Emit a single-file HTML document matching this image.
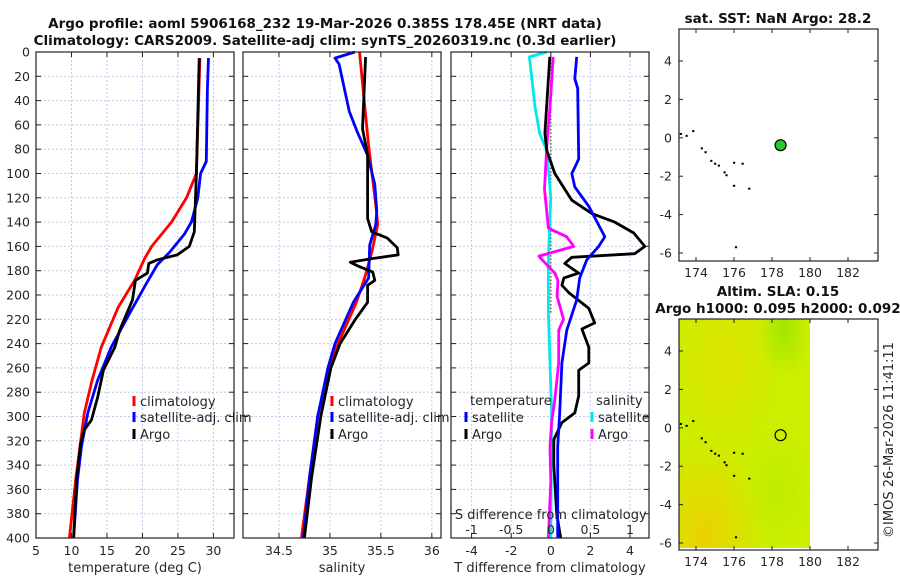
<!DOCTYPE html>
<html><head><meta charset="utf-8">
<style>
html,body{margin:0;padding:0;background:#fff;}
svg{display:block;font-family:"DejaVu Sans","Liberation Sans",sans-serif;}
</style></head>
<body>
<svg id="fig" width="900" height="580" viewBox="0 0 900 580" xmlns="http://www.w3.org/2000/svg">
<defs>
<radialGradient id="g1" cx="0.2" cy="0.95" r="0.45"><stop offset="0" stop-color="#f2cc00" stop-opacity="0.85"/><stop offset="1" stop-color="#f2cc00" stop-opacity="0"/></radialGradient>
<radialGradient id="g2" cx="0.35" cy="0.2" r="0.4"><stop offset="0" stop-color="#ecdc00" stop-opacity="0.6"/><stop offset="1" stop-color="#ecdc00" stop-opacity="0"/></radialGradient>
<radialGradient id="g3" cx="0.8" cy="0.05" r="0.2"><stop offset="0" stop-color="#98e400" stop-opacity="0.8"/><stop offset="1" stop-color="#98e400" stop-opacity="0"/></radialGradient>
<radialGradient id="g4" cx="0.75" cy="0.75" r="0.25"><stop offset="0" stop-color="#b0e800" stop-opacity="0.5"/><stop offset="1" stop-color="#b0e800" stop-opacity="0"/></radialGradient>
</defs>
<g id="root"></g>
</svg>
<script>
// ---------- data ----------
const tempClimDepth=[5,100,120,140,160,170,188,210,243,270,297,352,400];
const tempClim=[28.1,27.6,26.2,24.1,21.3,20.3,18.9,16.6,14.2,12.9,11.8,10.6,9.7];
const tempSatDepth=[5,30,90,100,120,140,150,165,175,190,215,243,270,297,325,352,400];
const tempSat=[29.3,29.15,29.0,28.2,27.8,26.9,25.9,23.8,22.1,20.6,18.2,15.6,13.7,12.3,11.4,10.85,10.3];
const tempArgoDepth=[5,100,148,160,167,171,174,182,188,204,229,243,262,284,303,311,322,352,400];
const tempArgo=[28.0,27.6,27.3,26.6,24.9,22.1,20.9,20.7,19.0,18.6,16.8,16.1,14.5,13.7,12.8,11.8,11.3,10.7,10.3];

const salClimDepth=[0,77,126,142,165,186,206,240,260,300,350,400];
const salClim=[35.29,35.38,35.45,35.47,35.41,35.34,35.26,35.08,34.99,34.88,34.80,34.72];
const salSatDepth=[0,5,10,49,66,85,109,131,142,159,186,206,240,260,300,350,400];
const salSat=[35.245,35.05,35.09,35.19,35.27,35.37,35.44,35.46,35.45,35.39,35.38,35.23,35.05,34.98,34.88,34.80,34.74];
const salArgoDepth=[4,63,85,137,148,153,161,167,170,173,176,181,188,192,206,220,240,260,300,350,400];
const salArgo=[35.35,35.32,35.37,35.37,35.41,35.56,35.66,35.67,35.42,35.20,35.27,35.42,35.44,35.37,35.37,35.25,35.10,35.01,34.91,34.82,34.75];

const dTSatDepth=[4,22,30,88,95,100,111,127,144,152,160,171,186,204,229,256,297,325,400];
const dTSat=[1.31,1.21,1.36,1.41,1.21,1.06,1.21,1.92,2.47,2.73,2.42,1.82,1.46,1.31,0.81,0.56,0.45,0.35,0.35];
const dTArgoDepth=[4,67,81,100,122,133,140,149,160,166,169,174,182,186,192,198,211,223,228,243,256,262,283,297,305,319,340,380,400];
const dTArgo=[-0.05,-0.3,-0.2,0.2,1.06,2.07,3.23,4.19,4.75,4.24,1.06,0.7,1.41,0.66,0.56,0.91,1.92,2.22,1.57,1.92,1.92,1.41,1.41,1.21,0.56,0.15,0.15,0.3,0.5];
const dSSatDepth=[0,4,45,67,81,120,170,215,297,400];
const dSSat=[-0.05,-0.27,-0.2,-0.14,-0.05,0.0,-0.03,-0.03,0.01,0.0];
const dSArgoDepth=[4,45,77,113,145,152,160,168,171,182,188,201,220,229,256,286,305,325,353,400];
const dSArgo=[0.03,-0.01,-0.05,-0.08,-0.03,0.2,0.29,-0.15,-0.11,0.05,0.09,0.08,0.16,0.1,0.1,0.05,0.01,-0.01,0,-0.03];

const depthTicks=[0,20,40,60,80,100,120,140,160,180,200,220,240,260,280,300,320,340,360,380,400];
const tempTicks=[5,10,15,20,25,30];
const salTicks=[34.5,35,35.5,36];
const dTTicks=[-4,-2,0,2,4];
const dSTicks=[-1,-0.5,0,0.5,1];
const dSTickLabels=["-1","-0.5","0","0.5","1"];
const lonTicks=[174,176,178,180,182];
const latTicks=[4,2,0,-2,-4,-6];
const argoPos=[178.45,-0.385];
const islands=[[173.2,0.2],[173.5,0.1],[173.85,0.35],[174.3,-0.55],[174.5,-0.75],[174.8,-1.2],[175.0,-1.35],[175.2,-1.45],[175.5,-1.8],[175.6,-1.95],[176.0,-1.3],[176.45,-1.35],[176.0,-2.5],[176.8,-2.65],[176.1,-5.7]];

// ---------- helpers ----------
const NS="http://www.w3.org/2000/svg";
const root=document.getElementById('root');
function mk(tag,attrs,parent){const e=document.createElementNS(NS,tag);for(const k in attrs)e.setAttribute(k,attrs[k]);(parent||root).appendChild(e);return e;}
function txt(s,x,y,opt,parent){const t=mk('text',Object.assign({x:x,y:y,'font-size':12,fill:'#262626'},opt||{}),parent);t.textContent=s;return t;}

const PT=52,PB=538;
const yD=d=>PT+(d/400)*(PB-PT);
const panels=[
 {x0:36,x1:234,min:5,max:32.9,ticks:tempTicks,name:'temperature-panel',label:'temperature (deg C)'},
 {x0:243,x1:441,min:34.147,max:36.09,ticks:salTicks,name:'salinity-panel',label:'salinity'},
 {x0:451,x1:649,min:-5.04,max:4.96,ticks:dTTicks,name:'difference-panel',label:'T difference from climatology'}
];
function xf(p){return v=>p.x0+(v-p.min)/(p.max-p.min)*(p.x1-p.x0);}

panels.forEach((p,i)=>{
 const g=mk('g',{});
 
 
 const X=xf(p);
 depthTicks.forEach(d=>{
  mk('line',{x1:p.x0,x2:p.x1,y1:yD(d),y2:yD(d),stroke:'#c4c8e6','stroke-width':1,'stroke-dasharray':'2,2'},g);
  mk('line',{x1:p.x0,x2:p.x0+5,y1:yD(d),y2:yD(d),stroke:'#222'},g);
  mk('line',{x1:p.x1-5,x2:p.x1,y1:yD(d),y2:yD(d),stroke:'#222'},g);
  if(i===0){const t=txt(String(d),30,yD(d)+4.5,{'text-anchor':'end','font-size':12.5},g);}
 });
 p.ticks.forEach(v=>{
  const x=X(v);
  mk('line',{x1:x,x2:x,y1:PT,y2:PB,stroke:'#c4c8e6','stroke-width':1,'stroke-dasharray':'2,2'},g);
  mk('line',{x1:x,x2:x,y1:PB-5,y2:PB,stroke:'#222'},g);
  mk('line',{x1:x,x2:x,y1:PT,y2:PT+5,stroke:'#222'},g);
  const t=txt(String(v),x,555,{'text-anchor':'middle','font-size':12.5},g);
  
  
 });
 const lt=txt(p.label,(p.x0+p.x1)/2,572,{'text-anchor':'middle','font-size':13},g);
 
 
});

function series(depths,vals,X,color,name){
 const pts=depths.map((d,k)=>X(vals[k]).toFixed(1)+','+yD(d).toFixed(1)).join(' ');
 const pl=mk('polyline',{points:pts,fill:'none',stroke:color,'stroke-width':2.8,'stroke-linejoin':'round'});
 
 
}
const XT=xf(panels[0]),XS=xf(panels[1]),XD=xf(panels[2]);
const XDS=v=>XD(v*4);
mk('line',{x1:XD(0),x2:XD(0),y1:PT,y2:yD(215),stroke:'#444','stroke-width':1.2,'stroke-dasharray':'1.5,2'});

series(tempClimDepth,tempClim,XT,'#ff0000','temp-climatology-line');
series(tempSatDepth,tempSat,XT,'#0000ff','temp-satellite-line');
series(tempArgoDepth,tempArgo,XT,'#000000','temp-argo-line');
series(salClimDepth,salClim,XS,'#ff0000','sal-climatology-line');
series(salSatDepth,salSat,XS,'#0000ff','sal-satellite-line');
series(salArgoDepth,salArgo,XS,'#000000','sal-argo-line');
series(dSSatDepth,dSSat,XDS,'#00e8ee','dS-satellite-line');
series(dSArgoDepth,dSArgo,XDS,'#ff00ff','dS-argo-line');
series(dTArgoDepth,dTArgo,XD,'#000000','dT-argo-line');
series(dTSatDepth,dTSat,XD,'#0000ff','dT-satellite-line');

panels.forEach(p=>{mk('rect',{x:p.x0,y:PT,width:p.x1-p.x0,height:PB-PT,fill:'none',stroke:'#222','stroke-width':1.2});});

const st=txt('S difference from climatology',XD(0),519,{'text-anchor':'middle','font-size':13});

dSTicks.forEach((v,k)=>{const t=txt(dSTickLabels[k],XDS(v),534,{'text-anchor':'middle','font-size':12.5});});

function legEntry(x,y,color,label,name){
 const g=mk('g',{});
 
 
 mk('line',{x1:x,x2:x,y1:y-10,y2:y,stroke:color,'stroke-width':3},g);
 txt(label,x+6,y,{'font-size':13},g);
}
legEntry(134,406,'#ff0000','climatology','legend-climatology');
legEntry(134,422,'#0000ff','satellite-adj. clim','legend-satellite-adj');
legEntry(134,439,'#000000','Argo','legend-argo');
legEntry(332,406,'#ff0000','climatology','legend-climatology-sal');
legEntry(332,422,'#0000ff','satellite-adj. clim','legend-satellite-adj-sal');
legEntry(332,439,'#000000','Argo','legend-argo-sal');
txt('temperature',470,405,{'font-size':13});
legEntry(466,422,'#0000ff','satellite','legend-temp-satellite');
legEntry(466,439,'#000000','Argo','legend-temp-argo');
txt('salinity',596,405,{'font-size':13});
legEntry(592,422,'#00e8ee','satellite','legend-sal-satellite');
legEntry(592,439,'#ff00ff','Argo','legend-sal-argo');

const t1=txt('Argo profile: aoml 5906168_232 19-Mar-2026 0.385S 178.45E (NRT data)',325,28,{'text-anchor':'middle','font-size':13.5,'font-weight':'bold',fill:'#111'});

const t2=txt('Climatology: CARS2009. Satellite-adj clim: synTS_20260319.nc (0.3d earlier)',325,45,{'text-anchor':'middle','font-size':13.5,'font-weight':'bold',fill:'#111'});


function map(top,bottom,lat4y,latm6y,name,isSLA){
 const g=mk('g',{});
 
 
 const L0=679,L1=878;
 const X=lon=>696+(lon-174)*19;
 const Y=lat=>lat4y+(4-lat)*(latm6y-lat4y)/10;
 if(isSLA){
  const w=X(180)-L0,h=bottom-top;
  mk('rect',{x:L0,y:top,width:w,height:h-2,fill:'#ccee00'},g);
  ['g1','g2','g3','g4'].forEach(id=>mk('rect',{x:L0,y:top,width:w,height:h-2,fill:'url(#'+id+')'},g));
 }
 islands.forEach(p=>mk('rect',{x:X(p[0])-1,y:Y(p[1])-1,width:2.2,height:2,fill:'#000'},g));
 const c=mk('circle',{cx:X(argoPos[0]),cy:Y(argoPos[1]),r:5.5,fill:isSLA?'none':'#22cc22',stroke:'#000','stroke-width':1.2},g);
 
 
 mk('rect',{x:L0,y:top,width:L1-L0,height:bottom-top,fill:'none',stroke:'#222','stroke-width':1.2},g);
 lonTicks.forEach(v=>{mk('line',{x1:X(v),x2:X(v),y1:bottom-4,y2:bottom,stroke:'#222'},g);mk('line',{x1:X(v),x2:X(v),y1:top,y2:top+4,stroke:'#222'},g);txt(String(v),X(v),bottom+16,{'text-anchor':'middle','font-size':12.5},g);});
 latTicks.forEach(v=>{if(Y(v)<top)return;mk('line',{x1:L0,x2:L0+4,y1:Y(v),y2:Y(v),stroke:'#222'},g);mk('line',{x1:L1-4,x2:L1,y1:Y(v),y2:Y(v),stroke:'#222'},g);txt(String(v),672,Y(v)+4.5,{'text-anchor':'end','font-size':12.5},g);});
}
map(29,261,61,253,'sst-map',false);
map(319,550,351,543,'sla-map',true);
const mt1=txt('sat. SST: NaN Argo: 28.2',778,23,{'text-anchor':'middle','font-size':13.5,'font-weight':'bold',fill:'#111'});

const mt2=txt('Altim. SLA: 0.15',778,296,{'text-anchor':'middle','font-size':13.5,'font-weight':'bold',fill:'#111'});

const mt3=txt('Argo h1000: 0.095 h2000: 0.092',778,313,{'text-anchor':'middle','font-size':13.5,'font-weight':'bold',fill:'#111'});

const cp=txt('©IMOS 26-Mar-2026 11:41:11',0,0,{'text-anchor':'middle','font-size':13,transform:'translate(893,440) rotate(-90)'});

</script>
</body></html>
